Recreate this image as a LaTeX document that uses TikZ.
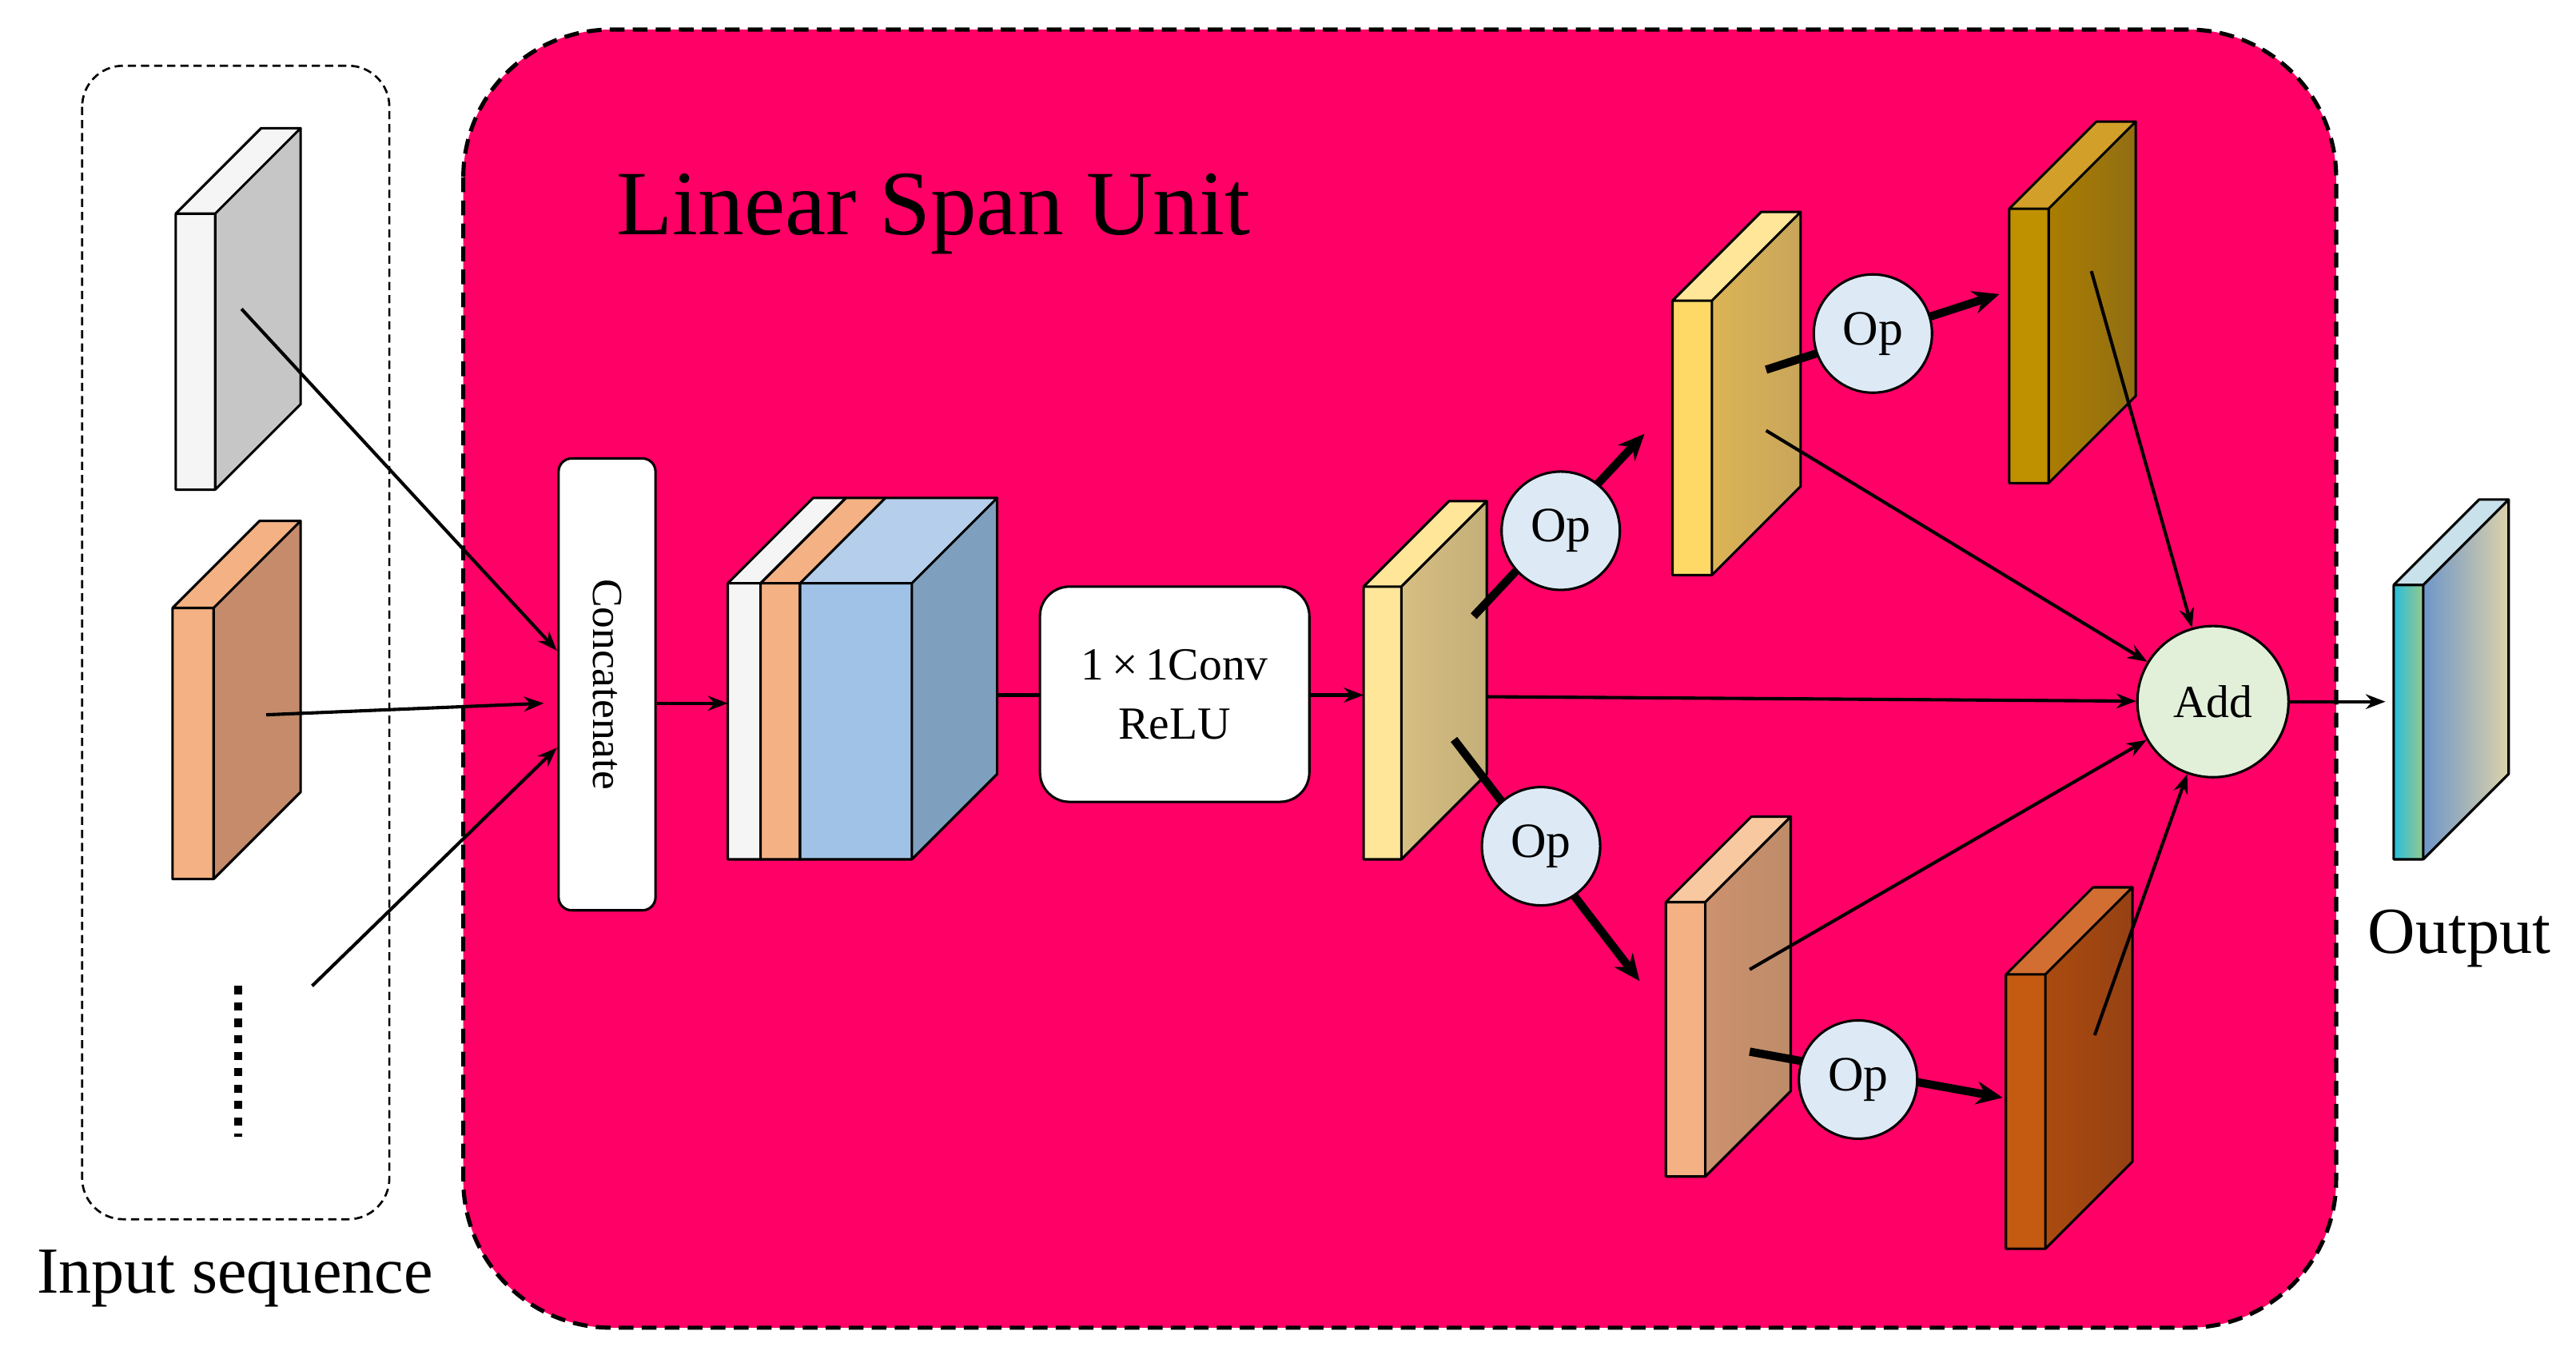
\documentclass[tikz,border=0pt]{standalone}
\usepackage{fontspec}
\setmainfont{Liberation Serif}
\usetikzlibrary{arrows.meta}
\newcommand{\slab}[8]{% x y w h d front top side
 \fill[#6] (#1,#2) rectangle ++(#3,#4);
 \fill[#7] (#1,#2) -- ++(#5,-#5) -- ++(#3,0) -- ++(-#5,#5) -- cycle;
 \fill[#8] (#1+#3,#2) -- ++(#5,-#5) -- ++(0,#4) -- ++(-#5,#5) -- cycle;
 \draw[line width=1.5pt,line join=round] (#1,#2) rectangle ++(#3,#4)
   (#1,#2) -- ++(#5,-#5) -- ++(#3,0) -- ++(-#5,#5)
   (#1+#3+#5,#2-#5) -- ++(0,#4) -- ++(-#5,#5);}
\begin{document}
\begin{tikzpicture}[x=1pt,y=-1pt,
 thin/.style={line width=2pt,-{Stealth[length=12pt,width=9pt]}},
 thick/.style={line width=5pt,-{Stealth[length=16pt,width=14pt]}},
 op/.style={circle,draw,line width=1.5pt,fill={rgb,255:red,221;green,233;blue,245},minimum size=72pt,inner sep=0pt,font=\fontsize{30}{32}\selectfont}]
\useasboundingbox (0,0) rectangle (1568,827);
\fill[white] (0,0) rectangle (1568,827);
\draw[line width=2.5pt,dash pattern=on 9pt off 5pt,fill={rgb,255:red,255;green,0;blue,102},rounded corners=90pt] (282,18) rectangle (1422,808);
\draw[line width=1.3pt,dash pattern=on 5pt off 3pt,rounded corners=25pt] (50,40) rectangle (237,742);
\node[font=\fontsize{56}{60}\selectfont] (title) at (568,130) {Linear Span Unit};
\node[font=\fontsize{40}{42}\selectfont] (inlab) at (143,778) {Input sequence};
\node[font=\fontsize{40}{42}\selectfont] (outlab) at (1497,571) {Output};
\draw[line width=5pt,dash pattern=on 5pt off 5pt] (145,600) -- (145,692);
% input slabs
\slab{107}{130}{24}{168}{52}{fill=gray!8}{fill=gray!8}{fill=gray!45}
\slab{105}{370}{25}{165}{53}{fill={rgb,255:red,244;green,177;blue,131}}{fill={rgb,255:red,244;green,177;blue,131}}{fill={rgb,255:red,197;green,139;blue,106}}
% concatenate
\node[draw,line width=1.5pt,fill=white,rounded corners=8pt,minimum width=59pt,minimum height=275pt] (cat) at (369.5,416.5) {};
\node[rotate=-90,font=\fontsize{26}{28}\selectfont] at (cat) {Concatenate};
% stack
\slab{443}{355}{20}{168}{52}{fill=gray!8}{fill=gray!8}{fill=gray!8}
\slab{463}{355}{24}{168}{52}{fill={rgb,255:red,244;green,177;blue,131}}{fill={rgb,255:red,244;green,177;blue,131}}{fill={rgb,255:red,244;green,177;blue,131}}
\slab{487}{355}{68}{168}{52}{fill={rgb,255:red,160;green,194;blue,230}}{fill={rgb,255:red,180;green,206;blue,235}}{fill={rgb,255:red,127;green,159;blue,190}}
\node[draw,line width=1.5pt,fill=white,rounded corners=18pt,minimum width=164pt,minimum height=131pt,align=center,font=\fontsize{28}{36}\selectfont] (conv) at (715,422.5) {1\,×\,1Conv\\ReLU};
% middle
\slab{830}{357}{23}{166}{52}{fill={rgb,255:red,255;green,230;blue,153}}{fill={rgb,255:red,255;green,230;blue,153}}{left color={rgb,255:red,215;green,190;blue,130},right color={rgb,255:red,195;green,175;blue,120}}
\slab{1018}{183}{24}{167}{54}{fill={rgb,255:red,255;green,217;blue,102}}{fill={rgb,255:red,255;green,230;blue,153}}{left color={rgb,255:red,220;green,180;blue,85},right color={rgb,255:red,200;green,165;blue,90}}
\slab{1223}{127}{24}{167}{53}{fill={rgb,255:red,191;green,144;blue,0}}{fill={rgb,255:red,210;green,160;blue,40}}{left color={rgb,255:red,170;green,125;blue,0},right color={rgb,255:red,145;green,110;blue,20}}
\slab{1014}{549}{24}{167}{52}{fill={rgb,255:red,244;green,177;blue,131}}{fill={rgb,255:red,248;green,200;blue,160}}{left color={rgb,255:red,205;green,145;blue,110},right color={rgb,255:red,190;green,140;blue,105}}
\slab{1221}{593}{24}{167}{53}{fill={rgb,255:red,197;green,90;blue,17}}{fill={rgb,255:red,210;green,110;blue,50}}{left color={rgb,255:red,170;green,75;blue,15},right color={rgb,255:red,150;green,65;blue,20}}
\slab{1457}{356}{18}{167}{52}{left color={rgb,255:red,40;green,190;blue,220},right color={rgb,255:red,150;green,200;blue,140}}{fill={rgb,255:red,200;green,225;blue,235}}{left color={rgb,255:red,110;green,150;blue,200},right color={rgb,255:red,220;green,210;blue,170}}
% coordinates
\coordinate (s1) at (147,188); \coordinate (s2) at (162,435); \coordinate (s3) at (190,600);
\coordinate (c1) at (339,396); \coordinate (c2) at (331,428); \coordinate (c3) at (339,455);
\coordinate (stR) at (607,423); \coordinate (midL) at (830,423); \coordinate (midR) at (905,424);
\coordinate (stL) at (443,428);
\node[circle,draw,line width=1.5pt,fill={rgb,255:red,226;green,239;blue,217},minimum size=92pt,inner sep=0pt,font=\fontsize{28}{30}\selectfont] (add) at (1347,427) {Add};
\coordinate (out) at (1452,427);
\coordinate (a1) at (897,375); \coordinate (a1e) at (1001,264);
\coordinate (a2) at (885,450); \coordinate (a2e) at (998,597);
\coordinate (a3) at (1075,225); \coordinate (a3e) at (1217,179);
\coordinate (a4) at (1065,640); \coordinate (a4e) at (1219,668);
\coordinate (u1) at (1075,262); \coordinate (u2) at (1273,165);
\coordinate (l1) at (1065,590); \coordinate (l2) at (1275,630);
\draw[thin] (s1) -- (c1); \draw[thin] (s2) -- (c2); \draw[thin] (s3) -- (c3);
\draw[thin] (cat.east |- stL) -- (stL);
\draw[line width=2pt] (stR) -- (conv.west |- stR);
\draw[thin] (conv.east |- midL) -- (midL);
\draw[thin] (midR) -- (add);
\draw[thick] (a1) -- (a1e); \draw[thick] (a2) -- (a2e);
\draw[thick] (a3) -- (a3e); \draw[thick] (a4) -- (a4e);
\node[op] (op1) at (950,323) {Op};
\node[op] (op2) at (1140,203) {Op};
\node[op] (op3) at (938,515) {Op};
\node[op] (op4) at (1131,657) {Op};
\draw[thin] (u1) -- (add); \draw[thin] (u2) -- (add);
\draw[thin] (l1) -- (add); \draw[thin] (l2) -- (add);
\draw[thin] (add) -- (out);
\end{tikzpicture}
\end{document}
